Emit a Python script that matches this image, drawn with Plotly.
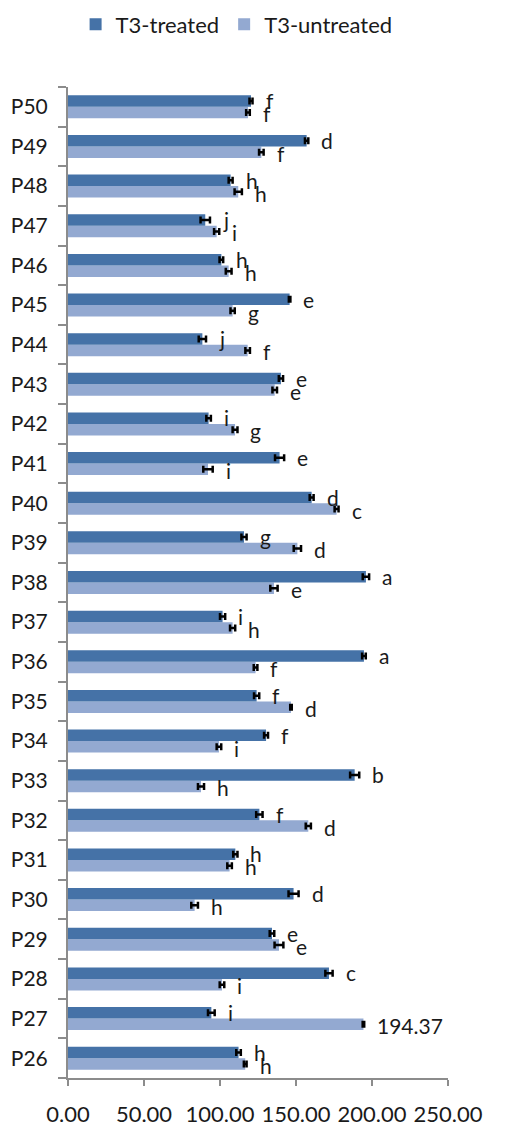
import plotly.graph_objects as go

categories = ["P26", "P27", "P28", "P29", "P30", "P31", "P32", "P33", "P34", "P35",
              "P36", "P37", "P38", "P39", "P40", "P41", "P42", "P43", "P44", "P45",
              "P46", "P47", "P48", "P49", "P50"]

treated = [112.2, 94.3, 171.7, 134.2, 148.4, 110.1, 125.9, 188.6, 130.3, 124.1,
           194.7, 101.7, 196.0, 115.8, 160.3, 139.2, 92.5, 140.1, 88.4, 145.8,
           100.9, 90.3, 107.0, 157.0, 120.4]
treated_err = [1.5, 2.2, 2.4, 1.5, 3.3, 1.4, 2.1, 3.0, 1.3, 1.7,
               1.2, 1.7, 2.1, 1.7, 1.3, 3.0, 1.5, 1.4, 2.4, 0.5,
               1.2, 3.1, 1.3, 1.1, 1.0]
treated_letters = ["h", "i", "c", "e", "d", "h", "f", "b", "f", "f",
                   "a", "i", "a", "g", "d", "e", "i", "e", "j", "e",
                   "h", "j", "h", "d", "f"]

untreated = [116.6, 194.37, 101.3, 138.8, 83.3, 106.3, 158.1, 87.5, 99.3, 146.7,
             123.4, 108.3, 135.5, 150.9, 176.7, 92.1, 109.9, 136.0, 118.2, 108.3,
             105.7, 97.8, 112.0, 127.2, 118.4]
untreated_err = [0.9, 0.5, 1.5, 2.9, 2.2, 1.5, 1.7, 2.0, 1.5, 0.5,
                 1.2, 1.7, 2.4, 2.4, 1.3, 3.1, 1.6, 1.5, 1.5, 1.4,
                 1.9, 1.7, 2.4, 1.5, 1.2]
untreated_letters = ["h", "194.37", "i", "e", "h", "h", "d", "h", "i", "d",
                     "f", "h", "e", "d", "c", "i", "g", "e", "f", "g",
                     "h", "i", "h", "f", "f"]

x_ticks = [0, 50, 100, 150, 200, 250]
x_tick_text = ["0.00", "50.00", "100.00", "150.00", "200.00", "250.00"]

DARK = "#4572A7"
LIGHT = "#93A9D1"
FONT = "Lato, 'Open Sans', sans-serif"
TXT = "#1a1a1a"

fig = go.Figure()
fig.add_trace(go.Bar(
    y=categories, x=untreated, orientation="h", name="T3-untreated",
    marker=dict(color=LIGHT, line=dict(width=0)), legendrank=2,
    error_x=dict(type="data", array=untreated_err, visible=True,
                 color="black", thickness=2.5, width=3.5),
))
fig.add_trace(go.Bar(
    y=categories, x=treated, orientation="h", name="T3-treated",
    marker=dict(color=DARK, line=dict(width=0)), legendrank=1,
    error_x=dict(type="data", array=treated_err, visible=True,
                 color="black", thickness=2.5, width=3.5),
))

annotations = []
for cat, v, e, lab in zip(categories, treated, treated_err, treated_letters):
    annotations.append(dict(x=v + e, y=cat, text=lab, showarrow=False,
                            xanchor="left", yanchor="middle", xshift=11, yshift=6,
                            font=dict(family=FONT, size=21, color=TXT)))
for cat, v, e, lab in zip(categories, untreated, untreated_err, untreated_letters):
    annotations.append(dict(x=v + e, y=cat, text=lab, showarrow=False,
                            xanchor="left", yanchor="middle", xshift=11, yshift=-7,
                            font=dict(family=FONT, size=21, color=TXT)))

fig.update_layout(
    width=509, height=1126,
    margin=dict(l=68, r=61, t=87, b=48, autoexpand=False),
    paper_bgcolor="white", plot_bgcolor="white",
    barmode="group", bargap=0.42, bargroupgap=0,
    font=dict(family=FONT, size=22, color=TXT),
    showlegend=True,
    legend=dict(orientation="h", x=0.02, xanchor="left", y=0.997, yanchor="top",
                yref="container", font=dict(family=FONT, size=22, color=TXT),
                itemclick=False, bgcolor="rgba(0,0,0,0)"),
    annotations=annotations,
    xaxis=dict(range=[0, 250], tickvals=x_ticks, ticktext=x_tick_text,
               automargin=False,
               showgrid=False, zeroline=False, showline=True, linecolor="#8c8c8c",
               linewidth=2, ticks="outside", ticklen=6, tickcolor="#8c8c8c",
               tickwidth=2, ticklabelstandoff=10,
               tickfont=dict(family=FONT, size=22, color=TXT)),
    yaxis=dict(range=[-0.5, 24.5], showgrid=False, zeroline=False, showline=True,
               automargin=False,
               linecolor="#8c8c8c", linewidth=2, ticks="outside", ticklen=8,
               tickcolor="#8c8c8c", tickwidth=2, tickson="boundaries",
               ticklabelstandoff=14,
               tickfont=dict(family=FONT, size=21, color=TXT)),
)

fig.write_html("out.html", config={"displayModeBar": False},
               post_script="document.body.style.margin='0';document.body.style.overflow='hidden';")
